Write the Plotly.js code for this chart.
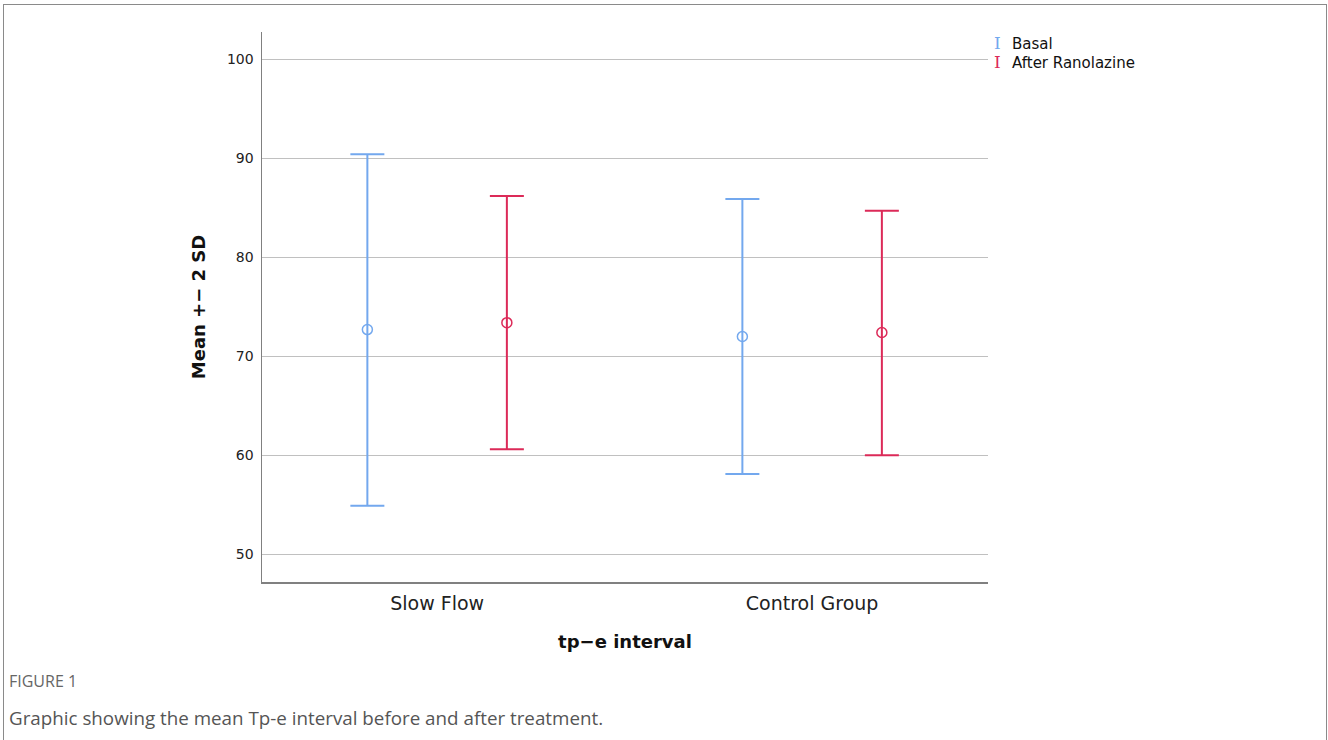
<!DOCTYPE html>
<html>
<head>
<meta charset="utf-8">
<script src="https://cdn.plot.ly/plotly-3.0.1.min.js"></script>
<style>
html,body{margin:0;padding:0;background:#fff;}
#chart{width:1328px;height:740px;}
#frame{position:absolute;left:3px;top:4px;width:1322px;height:800px;border:1.5px solid #8a8a8a;pointer-events:none;}
</style>
</head>
<body>
<div id="chart"></div>
<div id="frame"></div>
<script>
// Data
const categories = ['Slow Flow', 'Control Group'];
const seriesNames = ['Basal', 'After Ranolazine'];
const basalMean = [72.7, 72.0];
const basalUpper = [90.4, 85.9];
const basalLower = [54.9, 58.1];
const ranoMean = [73.4, 72.4];
const ranoUpper = [86.2, 84.7];
const ranoLower = [60.6, 60.0];
const yTicks = [50, 60, 70, 80, 90, 100];

const blue = '#73a8ee';
const red = '#dc2a58';
const offset = 0.186;
const catIdx = categories.map((c, i) => i);

function mk(name, means, upper, lower, dx, color) {
  return {
    type: 'scatter', mode: 'markers', name: name, showlegend: false,
    x: catIdx.map(i => i + dx), y: means,
    marker: {symbol: 'circle-open', size: 10, color: color, line: {width: 1.5, color: color}},
    error_y: {type: 'data', symmetric: false,
      array: upper.map((u, i) => u - means[i]),
      arrayminus: lower.map((l, i) => means[i] - l),
      color: color, thickness: 2, width: 17}
  };
}

const traces = [
  mk(seriesNames[0], basalMean, basalUpper, basalLower, -offset, blue),
  mk(seriesNames[1], ranoMean, ranoUpper, ranoLower, offset, red)
];

const L = 262, R = 988, T = 32, B = 582;
const px = v => (v - L) / (R - L);
const py = v => (B - v) / (B - T);

const layout = {
  width: 1328, height: 740,
  margin: {l: L, r: 1328 - R, t: T, b: 740 - B},
  paper_bgcolor: '#fff', plot_bgcolor: '#fff',
  showlegend: false,
  font: {family: 'DejaVu Sans, sans-serif', color: '#222'},
  xaxis: {
    range: [-0.467, 1.469], tickvals: catIdx, ticktext: categories,
    showgrid: false, zeroline: false, showline: true, linecolor: '#808080', linewidth: 1.5,
    ticks: '', tickfont: {size: 19, color: '#222'}, ticklabelstandoff: 4,
    title: {text: '<b>tp\u2212e interval</b>', font: {size: 18, color: '#111'}, standoff: 22},
    fixedrange: true
  },
  yaxis: {
    range: [47.2, 102.76], tickvals: yTicks,
    showgrid: true, gridcolor: '#c0c0c0', gridwidth: 1.5, zeroline: false,
    showline: true, linecolor: '#808080', linewidth: 1.5,
    ticks: '', tickfont: {size: 14, color: '#222'}, ticklabelstandoff: 4,
    title: {text: '<b>Mean +\u2212 2 SD</b>', font: {size: 18, color: '#111'}, standoff: 16},
    fixedrange: true
  },
  annotations: [
    {xref: 'paper', yref: 'paper', x: px(997), y: py(43), xanchor: 'center', yanchor: 'middle',
     text: 'I', showarrow: false, font: {family: 'DejaVu Serif, serif', size: 17, color: blue}},
    {xref: 'paper', yref: 'paper', x: px(1010), y: py(44), xanchor: 'left', yanchor: 'middle',
     text: seriesNames[0], showarrow: false, font: {size: 15, color: '#111'}},
    {xref: 'paper', yref: 'paper', x: px(997), y: py(62), xanchor: 'center', yanchor: 'middle',
     text: 'I', showarrow: false, font: {family: 'DejaVu Serif, serif', size: 17, color: red}},
    {xref: 'paper', yref: 'paper', x: px(1010), y: py(63), xanchor: 'left', yanchor: 'middle',
     text: seriesNames[1], showarrow: false, font: {size: 15, color: '#111'}},
    {xref: 'paper', yref: 'paper', x: px(7), y: py(681), xanchor: 'left', yanchor: 'middle',
     text: 'FIGURE 1', showarrow: false, font: {family: 'Open Sans, sans-serif', size: 16, color: '#666'}},
    {xref: 'paper', yref: 'paper', x: px(7), y: py(718), xanchor: 'left', yanchor: 'middle',
     text: 'Graphic showing the mean Tp-e interval before and after treatment.', showarrow: false,
     font: {family: 'Open Sans, sans-serif', size: 18.8, color: '#555'}}
  ]
};

Plotly.newPlot('chart', traces, layout, {displayModeBar: false, staticPlot: true});
</script>
</body>
</html>
